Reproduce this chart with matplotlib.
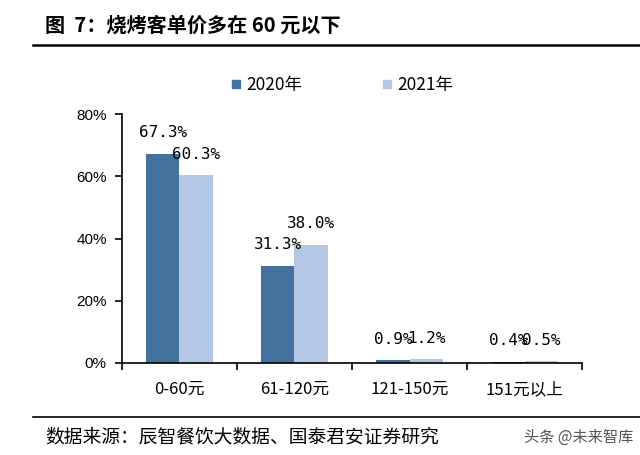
import numpy as np
import matplotlib.pyplot as plt
from matplotlib.lines import Line2D

plt.rcParams['font.family'] = ['Noto Sans CJK SC', 'DejaVu Sans']

categories = ['0-60元', '61-120元', '121-150元', '151元以上']
series_names = ['2020年', '2021年']
values_2020 = [67.3, 31.3, 0.9, 0.4]
values_2021 = [60.3, 38.0, 1.2, 0.5]
y_ticks = [0, 20, 40, 60, 80]

colors = ['#44729E', '#B4C8E6']

fig = plt.figure(figsize=(6.4, 4.55), dpi=100)
ax = fig.add_axes([0.1906, 0.2022, 0.7188, 0.5472])

x = np.arange(len(categories))
w = 0.29
for vals, off, c in [(values_2020, -w / 2, colors[0]), (values_2021, w / 2, colors[1])]:
    bars = ax.bar(x + off, vals, width=w, color=c)
    for b, v in zip(bars, vals):
        ax.annotate(f'{v:.1f}%', (b.get_x() + b.get_width() / 2, v),
                    xytext=(0, 15), textcoords='offset points',
                    ha='center', va='center', fontsize=11.5,
                    family='DejaVu Sans Mono')

ax.set_xlim(-0.5, 3.5)
ax.set_ylim(0, 80)
ax.set_yticks(y_ticks)
ax.set_yticklabels([f'{t}%' for t in y_ticks], family='Liberation Sans', fontsize=11)
ax.set_xticks(x)
ax.set_xticklabels(categories, fontsize=12)
ax.set_xticks(np.arange(-0.5, 4, 1), minor=True)
ax.tick_params(axis='x', which='major', length=0, pad=13)
ax.tick_params(axis='x', which='minor', length=5, width=1.2, direction='out')
ax.tick_params(axis='y', length=5, width=1.2, direction='out', pad=6)
for s in ['top', 'right']:
    ax.spines[s].set_visible(False)
for s in ['left', 'bottom']:
    ax.spines[s].set_linewidth(1.2)

handles = [Line2D([], [], marker='s', linestyle='', markersize=6,
                  color=c) for c in colors]
fig.legend(handles, series_names, loc='center', bbox_to_anchor=(0.533, 0.813),
           ncol=2, frameon=False, fontsize=12.5, handletextpad=0.2,
           columnspacing=4.5, handlelength=0.8)

fig.text(0.07, 0.945, '图  7：烧烤客单价多在 60 元以下', fontsize=14.5,
         fontweight='bold', va='center')
fig.add_artist(Line2D([0.052, 1.0], [0.901, 0.901], color='black', lw=1.8))
fig.add_artist(Line2D([0.052, 1.0], [0.084, 0.084], color='black', lw=1.2))
fig.text(0.07, 0.040, '数据来源：辰智餐饮大数据、国泰君安证券研究', fontsize=13.5,
         va='center')
fig.text(0.99, 0.040, '头条 @未来智库', fontsize=11, va='center', ha='right',
         color='#555555')

fig.savefig('out.png', dpi=100)
